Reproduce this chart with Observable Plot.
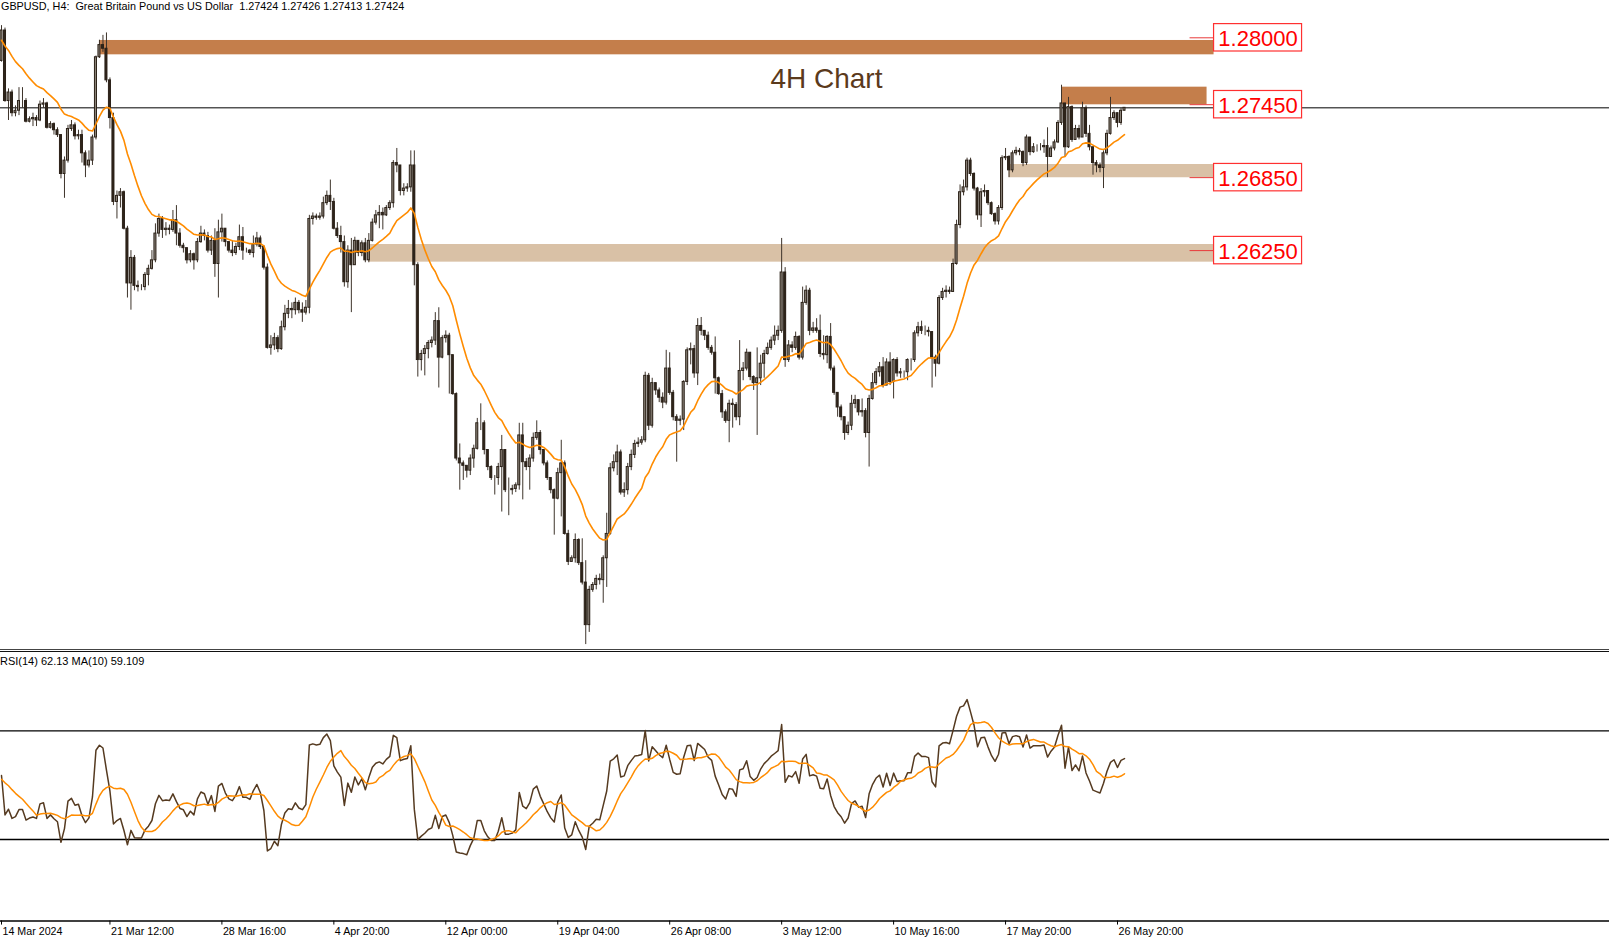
<!DOCTYPE html>
<html><head><meta charset="utf-8">
<script src="https://cdn.jsdelivr.net/npm/d3@7"></script>
<script src="https://cdn.jsdelivr.net/npm/@observablehq/plot@0.6"></script>
<style>
html,body{margin:0;padding:0;background:#fff;}
#wrap{position:relative;width:1609px;height:937px;overflow:hidden;font-family:"Liberation Sans",Arial,sans-serif;}
#main{position:absolute;left:0;top:0;}
#rsi{position:absolute;left:0;top:650px;}
.title{position:absolute;left:1px;top:0px;font-size:10.8px;color:#000;white-space:pre;line-height:13px;}
.sep{position:absolute;left:0;width:1609px;height:0;}
.rsilabel{position:absolute;left:0px;top:655px;font-size:11px;color:#000;white-space:pre;line-height:13px;}
</style></head><body>
<div id="wrap">
 <div id="main"></div><div id="rsi"></div>
 <div class="sep" style="top:649px;border-top:1px solid #444;"></div>
 <div class="sep" style="top:651px;border-top:1px solid #111;"></div>
 <div class="title">GBPUSD, H4:  Great Britain Pound vs US Dollar  1.27424 1.27426 1.27413 1.27424</div>
 <div class="rsilabel">RSI(14) 62.13 MA(10) 59.109</div>
</div>
<script>
// ---- data (GBPUSD H4) ----
const firstOpen = 1.2781;
const closes = [1.2806,1.2748,1.2755,1.2738,1.2740,1.2748,1.2748,1.2731,1.2733,1.2734,
1.2732,1.2745,1.2746,1.2726,1.2729,1.2724,1.2720,1.2688,1.2699,1.2725,
1.2728,1.2719,1.2720,1.2705,1.2695,1.2699,1.2718,1.2784,1.2794,1.2791,
1.2765,1.2734,1.2665,1.2670,1.2673,1.2643,1.2598,1.2619,1.2596,1.2595,
1.2595,1.2605,1.2610,1.2617,1.2639,1.2651,1.2642,1.2643,1.2642,1.2650,
1.2639,1.2629,1.2627,1.2617,1.2622,1.2617,1.2632,1.2639,1.2637,1.2625,
1.2633,1.2614,1.2640,1.2643,1.2632,1.2625,1.2623,1.2628,1.2636,1.2625,
1.2625,1.2623,1.2630,1.2635,1.2628,1.2611,1.2545,1.2547,1.2553,1.2544,
1.2562,1.2573,1.2577,1.2576,1.2582,1.2576,1.2574,1.2578,1.2651,1.2653,
1.2652,1.2653,1.2664,1.2670,1.2665,1.2643,1.2637,1.2632,1.2599,1.2625,
1.2613,1.2633,1.2623,1.2631,1.2617,1.2633,1.2648,1.2654,1.2656,1.2654,
1.2660,1.2664,1.2697,1.2695,1.2674,1.2676,1.2677,1.2695,1.2613,1.2535,
1.2540,1.2544,1.2549,1.2551,1.2567,1.2537,1.2553,1.2555,1.2539,1.2507,
1.2454,1.2450,1.2448,1.2444,1.2454,1.2462,1.2483,1.2483,1.2461,1.2447,
1.2438,1.2438,1.2447,1.2461,1.2428,1.2428,1.2429,1.2432,1.2473,1.2451,
1.2447,1.2454,1.2471,1.2475,1.2461,1.2450,1.2438,1.2428,1.2421,1.2442,
1.2450,1.2392,1.2369,1.2372,1.2387,1.2368,1.2352,1.2317,1.2346,1.2350,
1.2355,1.2354,1.2372,1.2392,1.2446,1.2451,1.2459,1.2426,1.2428,1.2447,
1.2457,1.2466,1.2467,1.2469,1.2522,1.2481,1.2516,1.2510,1.2504,1.2500,
1.2528,1.2508,1.2488,1.2485,1.2486,1.2517,1.2543,1.2544,1.2524,1.2563,
1.2559,1.2555,1.2545,1.2541,1.2520,1.2507,1.2492,1.2485,1.2499,1.2498,
1.2488,1.2526,1.2528,1.2541,1.2521,1.2516,1.2520,1.2532,1.2540,1.2545,
1.2551,1.2555,1.2559,1.2607,1.2535,1.2547,1.2545,1.2554,1.2537,1.2582,
1.2592,1.2559,1.2561,1.2559,1.2540,1.2539,1.2554,1.2528,1.2508,1.2496,
1.2488,1.2475,1.2481,1.2499,1.2502,1.2492,1.2493,1.2475,1.2503,1.2516,
1.2525,1.2529,1.2514,1.2533,1.2517,1.2535,1.2524,1.2525,1.2525,1.2535,
1.2535,1.2557,1.2562,1.2559,1.2559,1.2558,1.2537,1.2532,1.2586,1.2591,
1.2592,1.2591,1.2614,1.2646,1.2673,1.2677,1.2699,1.2688,1.2676,1.2654,
1.2673,1.2674,1.2664,1.2655,1.2649,1.2660,1.2701,1.2702,1.2691,1.2705,
1.2707,1.2706,1.2697,1.2718,1.2706,1.2710,1.2710,1.2710,1.2711,1.2702,
1.2709,1.2714,1.2730,1.2746,1.2710,1.2743,1.2716,1.2725,1.2718,1.2742,
1.2721,1.2710,1.2697,1.2695,1.2693,1.2705,1.2721,1.2734,1.2738,1.2730,
1.2740,1.27424];
const highs = [1.2810,1.2808,1.2758,1.2757,1.2744,1.2759,1.2759,1.2750,1.2735,1.2738,
1.2736,1.2748,1.2750,1.2747,1.2731,1.2730,1.2726,1.2720,1.2702,1.2728,
1.2732,1.2730,1.2724,1.2724,1.2707,1.2707,1.2720,1.2785,1.2798,1.2802,
1.2804,1.2767,1.2738,1.2674,1.2676,1.2674,1.2645,1.2625,1.2621,1.2600,
1.2597,1.2607,1.2613,1.2625,1.2647,1.2655,1.2653,1.2648,1.2646,1.2658,
1.2662,1.2643,1.2631,1.2627,1.2625,1.2623,1.2635,1.2645,1.2642,1.2640,
1.2637,1.2643,1.2650,1.2655,1.2637,1.2629,1.2633,1.2631,1.2646,1.2644,
1.2627,1.2626,1.2637,1.2640,1.2637,1.2629,1.2614,1.2555,1.2557,1.2555,
1.2567,1.2580,1.2584,1.2582,1.2586,1.2584,1.2582,1.2584,1.2654,1.2656,
1.2655,1.2656,1.2669,1.2674,1.2683,1.2668,1.2648,1.2645,1.2637,1.2629,
1.2635,1.2636,1.2629,1.2633,1.2635,1.2639,1.2651,1.2658,1.2662,1.2660,
1.2662,1.2666,1.2699,1.2709,1.2695,1.2680,1.2680,1.2707,1.2707,1.2615,
1.2543,1.2547,1.2551,1.2554,1.2574,1.2578,1.2555,1.2559,1.2557,1.2539,
1.2508,1.2466,1.2452,1.2448,1.2457,1.2465,1.2487,1.2499,1.2485,1.2461,
1.2448,1.2440,1.2450,1.2473,1.2461,1.2438,1.2432,1.2434,1.2483,1.2483,
1.2454,1.2457,1.2475,1.2485,1.2477,1.2461,1.2452,1.2438,1.2429,1.2446,
1.2469,1.2452,1.2395,1.2374,1.2392,1.2388,1.2388,1.2370,1.2349,1.2352,
1.2358,1.2359,1.2374,1.2409,1.2450,1.2457,1.2465,1.2461,1.2434,1.2450,
1.2461,1.2469,1.2471,1.2472,1.2525,1.2524,1.2520,1.2516,1.2512,1.2508,
1.2543,1.2541,1.2510,1.2490,1.2489,1.2518,1.2545,1.2549,1.2547,1.2569,
1.2570,1.2559,1.2558,1.2547,1.2554,1.2521,1.2510,1.2494,1.2502,1.2503,
1.2500,1.2551,1.2533,1.2544,1.2536,1.2522,1.2545,1.2539,1.2543,1.2549,
1.2554,1.2563,1.2563,1.2635,1.2611,1.2551,1.2550,1.2558,1.2555,1.2595,
1.2596,1.2594,1.2566,1.2569,1.2572,1.2555,1.2555,1.2565,1.2530,1.2506,
1.2498,1.2487,1.2484,1.2506,1.2506,1.2502,1.2503,1.2495,1.2506,1.2524,
1.2528,1.2533,1.2537,1.2536,1.2541,1.2536,1.2537,1.2528,1.2526,1.2536,
1.2536,1.2559,1.2566,1.2567,1.2563,1.2562,1.2557,1.2539,1.2588,1.2594,
1.2596,1.2595,1.2618,1.2650,1.2679,1.2683,1.2701,1.2701,1.2689,1.2677,
1.2676,1.2679,1.2674,1.2665,1.2656,1.2662,1.2703,1.2709,1.2703,1.2707,
1.2710,1.2709,1.2707,1.2720,1.2717,1.2713,1.2712,1.2713,1.2716,1.2726,
1.2711,1.2716,1.2732,1.2761,1.2744,1.2751,1.2744,1.2728,1.2728,1.2747,
1.2744,1.2728,1.2710,1.2699,1.2697,1.2707,1.2724,1.2751,1.2740,1.2738,
1.2742,1.27426];
const lows = [1.2780,1.2747,1.2732,1.2735,1.2735,1.2736,1.2742,1.2730,1.2730,1.2727,
1.2727,1.2731,1.2742,1.2725,1.2725,1.2720,1.2718,1.2684,1.2668,1.2697,
1.2723,1.2716,1.2716,1.2697,1.2685,1.2693,1.2695,1.2716,1.2783,1.2788,
1.2763,1.2725,1.2662,1.2651,1.2660,1.2642,1.2586,1.2576,1.2592,1.2591,
1.2592,1.2592,1.2596,1.2609,1.2615,1.2636,1.2635,1.2637,1.2638,1.2640,
1.2629,1.2627,1.2623,1.2614,1.2615,1.2609,1.2615,1.2631,1.2633,1.2623,
1.2621,1.2603,1.2586,1.2632,1.2628,1.2623,1.2620,1.2621,1.2625,1.2617,
1.2623,1.2621,1.2619,1.2628,1.2626,1.2609,1.2544,1.2539,1.2543,1.2541,
1.2543,1.2559,1.2569,1.2569,1.2572,1.2573,1.2566,1.2572,1.2573,1.2646,
1.2650,1.2650,1.2651,1.2662,1.2658,1.2642,1.2635,1.2623,1.2595,1.2594,
1.2574,1.2615,1.2620,1.2620,1.2615,1.2615,1.2632,1.2646,1.2643,1.2642,
1.2653,1.2658,1.2660,1.2689,1.2670,1.2670,1.2673,1.2673,1.2596,1.2521,
1.2526,1.2522,1.2536,1.2545,1.2547,1.2512,1.2536,1.2549,1.2507,1.2506,
1.2452,1.2428,1.2436,1.2438,1.2440,1.2446,1.2461,1.2477,1.2457,1.2444,
1.2436,1.2424,1.2432,1.2410,1.2426,1.2407,1.2424,1.2426,1.2428,1.2420,
1.2444,1.2428,1.2451,1.2469,1.2457,1.2448,1.2436,1.2425,1.2391,1.2420,
1.2406,1.2391,1.2366,1.2369,1.2368,1.2366,1.2350,1.2301,1.2311,1.2344,
1.2346,1.2350,1.2335,1.2348,1.2391,1.2443,1.2440,1.2424,1.2422,1.2424,
1.2444,1.2454,1.2463,1.2465,1.2467,1.2477,1.2479,1.2506,1.2500,1.2495,
1.2498,1.2506,1.2485,1.2451,1.2481,1.2477,1.2514,1.2531,1.2520,1.2514,
1.2555,1.2551,1.2543,1.2539,1.2507,1.2506,1.2487,1.2483,1.2467,1.2479,
1.2485,1.2481,1.2518,1.2526,1.2518,1.2510,1.2473,1.2514,1.2520,1.2539,
1.2543,1.2547,1.2551,1.2557,1.2529,1.2533,1.2541,1.2543,1.2535,1.2535,
1.2580,1.2555,1.2557,1.2557,1.2537,1.2535,1.2532,1.2526,1.2506,1.2488,
1.2485,1.2469,1.2473,1.2477,1.2495,1.2489,1.2488,1.2471,1.2447,1.2502,
1.2514,1.2521,1.2512,1.2514,1.2514,1.2503,1.2521,1.2520,1.2520,1.2518,
1.2526,1.2533,1.2554,1.2556,1.2555,1.2554,1.2512,1.2521,1.2531,1.2584,
1.2586,1.2589,1.2591,1.2613,1.2643,1.2670,1.2674,1.2686,1.2674,1.2650,
1.2644,1.2669,1.2662,1.2654,1.2646,1.2646,1.2658,1.2699,1.2685,1.2689,
1.2703,1.2703,1.2694,1.2695,1.2703,1.2705,1.2706,1.2707,1.2705,1.2685,
1.2706,1.2707,1.2713,1.2728,1.2702,1.2709,1.2714,1.2716,1.2716,1.2718,
1.2718,1.2707,1.2687,1.2689,1.2689,1.2676,1.2703,1.2720,1.2732,1.2726,
1.2728,1.27413];

const maAtFirstBar = 1.2798;   // MA line value at the first bar
const maPeriod = 20;
const rsiPeriod = 14;
const rsiSeedGain = 0.0005, rsiSeedLoss = 0.0006;
const rsiMaPeriod = 10, rsiBeforeChart = 52;

// zones (support / resistance)
const zoneLevels = [1.28000, 1.27450, 1.26850, 1.26250];
const zoneTops = [1.27978, 1.27594, 1.26958, 1.26300];
const zoneBottoms = [1.27860, 1.27449, 1.26849, 1.26155];
const zoneStartBars = [28, 303, 288, 105];
const zoneEndBars = [346.6, 344.6, 346.6, 346.6];
const zoneKinds = ["dark", "dark", "light", "light"];

// time axis
const tickBars = [0, 31, 63, 95, 127, 159, 191, 223, 255, 287, 319];
const tickLabels = ["14 Mar 2024","21 Mar 12:00","28 Mar 16:00","4 Apr 20:00","12 Apr 00:00","19 Apr 04:00","26 Apr 08:00","3 May 12:00","10 May 16:00","17 May 20:00","26 May 20:00"];

// ---- build ----
const N = closes.length;
const bars = closes.map((c, i) => {
  const o = i === 0 ? firstOpen : closes[i - 1];
  return {i, o, c, h: Math.max(highs[i], o, c), l: Math.min(lows[i], o, c), up: c >= o};
});
const alpha = 2 / (maPeriod + 1);
const ma = [];
closes.forEach((c, i) => ma.push({i, v: i === 0 ? maAtFirstBar : ma[i - 1].v + alpha * (c - ma[i - 1].v)}));

let ag = rsiSeedGain, al = rsiSeedLoss;
const rsi = closes.map((c, i) => {
  const prev = i === 0 ? firstOpen : closes[i - 1];
  const ch = c - prev;
  ag = (ag * (rsiPeriod - 1) + Math.max(ch, 0)) / rsiPeriod;
  al = (al * (rsiPeriod - 1) + Math.max(-ch, 0)) / rsiPeriod;
  return {i, v: al === 0 ? 100 : 100 - 100 / (1 + ag / al)};
});
const rsiMa = rsi.map((d, i) => {
  let s = 0;
  for (let k = i - rsiMaPeriod + 1; k <= i; k++) s += k < 0 ? rsiBeforeChart : rsi[k].v;
  return {i, v: s / rsiMaPeriod};
});

const zones = zoneLevels.map((level, k) => ({level, top: zoneTops[k], bottom: zoneBottoms[k], start: zoneStartBars[k], end: zoneEndBars[k], kind: zoneKinds[k]}));
const ticks = tickBars.map((b, k) => ({bar: b, label: tickLabels[k]}));

const xRange = [1, 1124];
const pxPerBar = (xRange[1] - xRange[0]) / (N - 1);
const yDomain = [1.23, 1.28], yRange = [645.3, 37.3];
const pxPerPrice = (yRange[0] - yRange[1]) / (yDomain[1] - yDomain[0]);
const boxHalf = 13.7 / pxPerPrice;
const boxX1 = 346.6, boxX2 = 346.6 + 88 / pxPerBar, boxMid = (boxX1 + boxX2) / 2;
const connX1 = 346.6 - 24 / pxPerBar;

const FONT = "Liberation Sans, Arial, sans-serif";
const bullFill = "#8c847a", bearFill = "#2f251b", candleStroke = "#2b2118", wickColor = "#3e342b";

const main = Plot.plot({
  width: 1609, height: 650, margin: 0,
  x: {domain: [0, N - 1], range: xRange, axis: null},
  y: {domain: yDomain, range: yRange, axis: null},
  style: {background: "transparent", fontFamily: FONT, overflow: "visible"},
  marks: [
    Plot.rect(zones.filter(z => z.kind === "dark"), {x1: "start", x2: "end", y1: "bottom", y2: "top", fill: "#c47e4b"}),
    Plot.rect(zones.filter(z => z.kind === "light"), {x1: "start", x2: "end", y1: "bottom", y2: "top", fill: "#d9c1a6"}),
    Plot.ruleY([closes[N - 1]], {stroke: "#000", strokeWidth: 1}),
    Plot.ruleX(bars, {x: "i", y1: "l", y2: "h", stroke: wickColor, strokeWidth: 1}),
    Plot.rect(bars.filter(d => d.up), {x1: d => d.i - 0.29, x2: d => d.i + 0.29, y1: "o", y2: "c", fill: bullFill, stroke: candleStroke, strokeWidth: 1}),
    Plot.rect(bars.filter(d => !d.up), {x1: d => d.i - 0.29, x2: d => d.i + 0.29, y1: "o", y2: "c", fill: bearFill, stroke: candleStroke, strokeWidth: 1}),
    Plot.line(ma, {x: "i", y: "v", stroke: "#ff8c00", strokeWidth: 1.6}),
    Plot.ruleY(zones, {y: "level", x1: connX1, x2: boxX1, stroke: "#e83a3a", strokeWidth: 1}),
    Plot.rect(zones, {x1: boxX1, x2: boxX2, y1: d => d.level - boxHalf, y2: d => d.level + boxHalf, fill: "#fff", stroke: "#ff3030", strokeWidth: 1.2}),
    Plot.text(zones, {x: boxMid, y: "level", text: d => d.level.toFixed(5), fill: "#ff0000", fontSize: 22, fontFamily: FONT, textAnchor: "middle", dy: 1}),
    Plot.text(["4H Chart"], {x: 235.8, y: 1.27665, text: d => d, fill: "#5b3a1c", fontSize: 28, fontFamily: FONT, textAnchor: "middle"})
  ]
});
document.getElementById("main").appendChild(main);

const rsiPlot = Plot.plot({
  width: 1609, height: 287, margin: 0,
  x: {domain: [0, N - 1], range: xRange, axis: null},
  y: {domain: [0, 100], range: [270.5, -1.2], axis: null},
  style: {background: "transparent", fontFamily: FONT, overflow: "visible"},
  marks: [
    Plot.ruleY([70, 30], {stroke: "#000", strokeWidth: 1.3}),
    Plot.ruleY([0], {stroke: "#000", strokeWidth: 1.3}),
    Plot.ruleX(ticks, {x: "bar", y1: 0, y2: -1.5, stroke: "#000", strokeWidth: 1}),
    Plot.text(ticks, {x: "bar", y: 0, dy: 10.5, dx: 1, text: "label", textAnchor: "start", fontSize: 10.7, fill: "#000", fontFamily: FONT}),
    Plot.line(rsi, {x: "i", y: "v", stroke: "#553a20", strokeWidth: 1.5}),
    Plot.line(rsiMa, {x: "i", y: "v", stroke: "#ff8c00", strokeWidth: 1.5})
  ]
});
document.getElementById("rsi").appendChild(rsiPlot);
</script>
</body></html>
